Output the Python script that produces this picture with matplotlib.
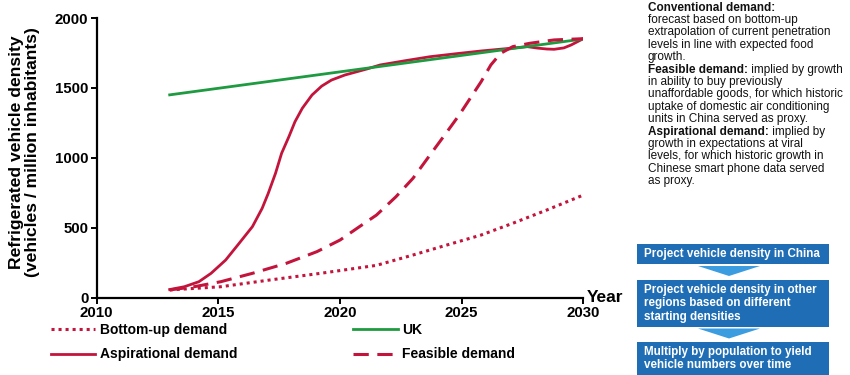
import matplotlib
matplotlib.use("Agg")
import matplotlib.pyplot as plt
from matplotlib.patches import Rectangle, Polygon

plt.rcParams['font.family'] = ['Liberation Sans', 'DejaVu Sans']

# ===== data =====
uk_years = [2013, 2030]
uk_vals = [1450, 1850]

asp_years = [2013.0, 2013.6, 2014.2, 2014.7, 2015.3, 2015.8, 2016.4, 2016.8, 2017.05,
             2017.35, 2017.6, 2017.9, 2018.15, 2018.45, 2018.85, 2019.25, 2019.65,
             2020.2, 2021.1, 2021.65, 2022.7, 2023.7, 2024.8, 2025.8, 2026.8,
             2027.7, 2028.1, 2028.5, 2028.8, 2029.2, 2029.5, 2030.0]
asp_vals = [57, 77, 113, 173, 268, 376, 507, 638, 745,
            889, 1032, 1151, 1258, 1354, 1449, 1513, 1556,
            1592, 1635, 1664, 1695, 1723, 1745, 1764, 1780,
            1795, 1785, 1778, 1776, 1786, 1807, 1852]

feas_years = [2013.0, 2014.0, 2015.1, 2016.4, 2017.8, 2019.05, 2020.0, 2020.8, 2021.5,
              2022.3, 2023.0, 2023.7, 2024.4, 2024.9, 2025.35, 2025.8, 2026.2,
              2026.6, 2027.1, 2027.8, 2028.8, 2030.0]
feas_vals = [54, 77, 113, 173, 245, 328, 411, 507, 590,
             721, 853, 1020, 1186, 1306, 1425, 1544, 1664,
             1747, 1795, 1819, 1843, 1852]

bu_years = [2013.0, 2015.1, 2017.1, 2019.2, 2021.5, 2023.0, 2024.4, 2025.8,
            2027.1, 2028.5, 2030.0]
bu_vals = [54, 77, 125, 173, 230, 304, 376, 447, 531, 626, 733]

x_ticks = [2010, 2015, 2020, 2025, 2030]
y_ticks = [0, 500, 1000, 1500, 2000]

red = '#c3143c'
green = '#1e9a40'
box_blue = '#1f6eb5'
arrow_blue = '#3c9ce0'

fig = plt.figure(figsize=(8.5, 3.75), dpi=100)

# overlay in pixel coordinates for the text panel and flow boxes
ov = fig.add_axes([0, 0, 1, 1])
ov.set_xlim(0, 850)
ov.set_ylim(375, 0)
ov.axis('off')

ax = fig.add_axes([96.7 / 850, 1 - 297.5 / 375, 486.6 / 850, 279.5 / 375])
ax.patch.set_alpha(0)

ax.plot(bu_years, bu_vals, color=red, lw=2.2, ls=(0, (1.0, 1.3)), label='Bottom-up demand')
ax.plot(asp_years, asp_vals, color=red, lw=2.0, label='Aspirational demand')
ax.plot(uk_years, uk_vals, color=green, lw=2.0, label='UK')
ax.plot(feas_years, feas_vals, color=red, lw=2.2, ls=(0, (5.0, 2.8)), label='Feasible demand')

ax.set_xlim(2010, 2030)
ax.set_ylim(0, 2000)
ax.set_xticks(x_ticks)
ax.set_yticks(y_ticks)
for s in ['top', 'right']:
    ax.spines[s].set_visible(False)
for s in ['left', 'bottom']:
    ax.spines[s].set_linewidth(1.6)
ax.tick_params(direction='out', length=4, width=1.4, labelsize=10.8, pad=2)
for lab in ax.get_xticklabels() + ax.get_yticklabels():
    lab.set_fontweight('bold')

ax.set_ylabel('Refrigerated vehicle density\n(vehicles / million inhabitants)',
              fontsize=12.6, fontweight='bold', linespacing=1.12)
ax.yaxis.set_label_coords(-0.116, 0.52)
ax.text(1.008, 0.0, 'Year', transform=ax.transAxes, fontsize=12.5,
        fontweight='bold', ha='left', va='center')

handles, labels = ax.get_legend_handles_labels()
fig.legend(handles, labels, ncol=2, loc='upper left',
           bbox_to_anchor=(51 / 850, 1 - 323 / 375), frameon=False,
           prop={'weight': 'bold', 'size': 10}, handlelength=3.2,
           handletextpad=0.35, labelspacing=0.75, columnspacing=8.3,
           borderpad=0, borderaxespad=0)

# ===== right-hand notes =====
tx = 648
fs = 8.5
paras = [
    ('Conventional demand:', '', 8,
     ['forecast based on bottom-up', 'extrapolation of current penetration',
      'levels in line with expected food', 'growth.']),
    ('Feasible demand:', ' implied by growth', 70,
     ['in ability to buy previously', 'unaffordable goods, for which historic',
      'uptake of domestic air conditioning', 'units in China served as proxy.']),
    ('Aspirational demand:', ' implied by', 132,
     ['growth in expectations at viral', 'levels, for which historic growth in',
      'Chinese smart phone data served', 'as proxy.']),
]
fig.canvas.draw()
renderer = fig.canvas.get_renderer()
for head, rest, y0, lines in paras:
    t = ov.text(tx, y0, head, fontsize=fs, fontweight='bold', va='center',
                ha='left', color='#111111')
    if rest:
        bb = t.get_window_extent(renderer=renderer)
        ov.text(bb.x1, y0, rest, fontsize=fs, va='center', ha='left', color='#111111')
    for i, ln in enumerate(lines):
        ov.text(tx, y0 + 12.2 * (i + 1), ln, fontsize=fs, va='center',
                ha='left', color='#111111')

# ===== flow boxes =====
boxes = [
    (244, 264, ['Project vehicle density in China']),
    (280, 327, ['Project vehicle density in other', 'regions based on different',
                'starting densities']),
    (342, 380, ['Multiply by population to yield', 'vehicle numbers over time']),
]
for top, bot, lines in boxes:
    ov.add_patch(Rectangle((637, top), 192, bot - top, facecolor=box_blue,
                           edgecolor='none'))
    for i, ln in enumerate(lines):
        ov.text(644, top + 10 + 13.3 * i, ln, fontsize=8.4, fontweight='bold',
                color='white', va='center', ha='left')
for ya in [266, 328.5]:
    ov.add_patch(Polygon([(698, ya), (760, ya), (729, ya + 10)], closed=True,
                         facecolor=arrow_blue, edgecolor='none'))

fig.savefig('out.png', dpi=100)
